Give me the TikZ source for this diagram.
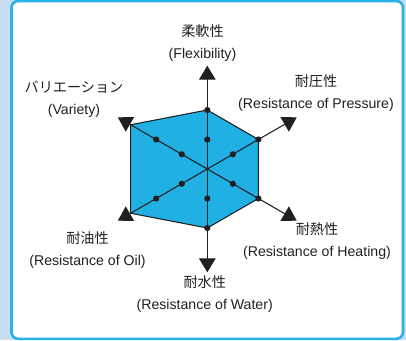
\documentclass[tikz,border=0pt]{standalone}
\usepackage{fontspec}
\usepackage{tikz}
\usetikzlibrary{arrows.meta}
\setmainfont{Liberation Sans}
\newfontfamily\jp{Noto Sans CJK JP}
\definecolor{bgblue}{RGB}{199,222,242}
\definecolor{frameblue}{RGB}{40,178,232}
\definecolor{hexblue}{RGB}{32,176,228}
\definecolor{ink}{RGB}{35,31,32}
\tikzset{
  axis/.style={ink, line width=0.8pt, -{Triangle[length=10.5pt,width=12.5pt]}},
  lbl/.style={ink, align=center, inner sep=0pt,
    font=\fontsize{10.6pt}{16.5pt}\selectfont},
}

\begin{document}
\begin{tikzpicture}[x=0.75pt,y=0.75pt]
        \def\unit{29.5}
        \def\tip{103.3}
        \fill[bgblue] (0,0) rectangle (406,340);
        \useasboundingbox (0,0) rectangle (406,340);
        \draw[frameblue, fill=white, line width=1.95pt, rounded corners=5pt] (11.5,1.2) rectangle (403,339);

        \begin{scope}[shift={(207.3,171)}]
        \coordinate (ctr) at (0,0);
        \filldraw[hexblue, draw=ink, line width=0.8pt]
          (90:2*\unit) -- (30:2*\unit) -- (-30:2*\unit) -- (-90:2*\unit)
          -- (-150:3*\unit) -- (150:3*\unit) -- cycle;
        \foreach \a/\n in {90/flex,30/pres,-30/heat,-90/water,-150/oil,150/var} {
          \coordinate (\n) at (\a:\tip);
          \draw[axis] (ctr) -- (\n);
          \fill[ink] (\a:\unit) circle (3.1);
          \fill[ink] (\a:2*\unit) circle (3.1);
        }
        \end{scope}

        \node[lbl] (lflex)  at (202.5,296.8) {{\jp 柔軟性}\\(Flexibility)};
        \node[lbl] (lpres)  at (316,247.2)   {{\jp 耐圧性}\\(Resistance of Pressure)};
        \node[lbl] (lvar)   at (74,241.3)    {{\jp バリエーション}\\(Variety)};
        \node[lbl] (loil)   at (87.5,89.5)   {{\jp 耐油性}\\(Resistance of Oil)};
        \node[lbl] (lheat)  at (317,98.8)    {{\jp 耐熱性}\\(Resistance of Heating)};
        \node[lbl] (lwater) at (204.7,45.8)  {{\jp 耐水性}\\(Resistance of Water)};
      \end{tikzpicture}
\end{document}
